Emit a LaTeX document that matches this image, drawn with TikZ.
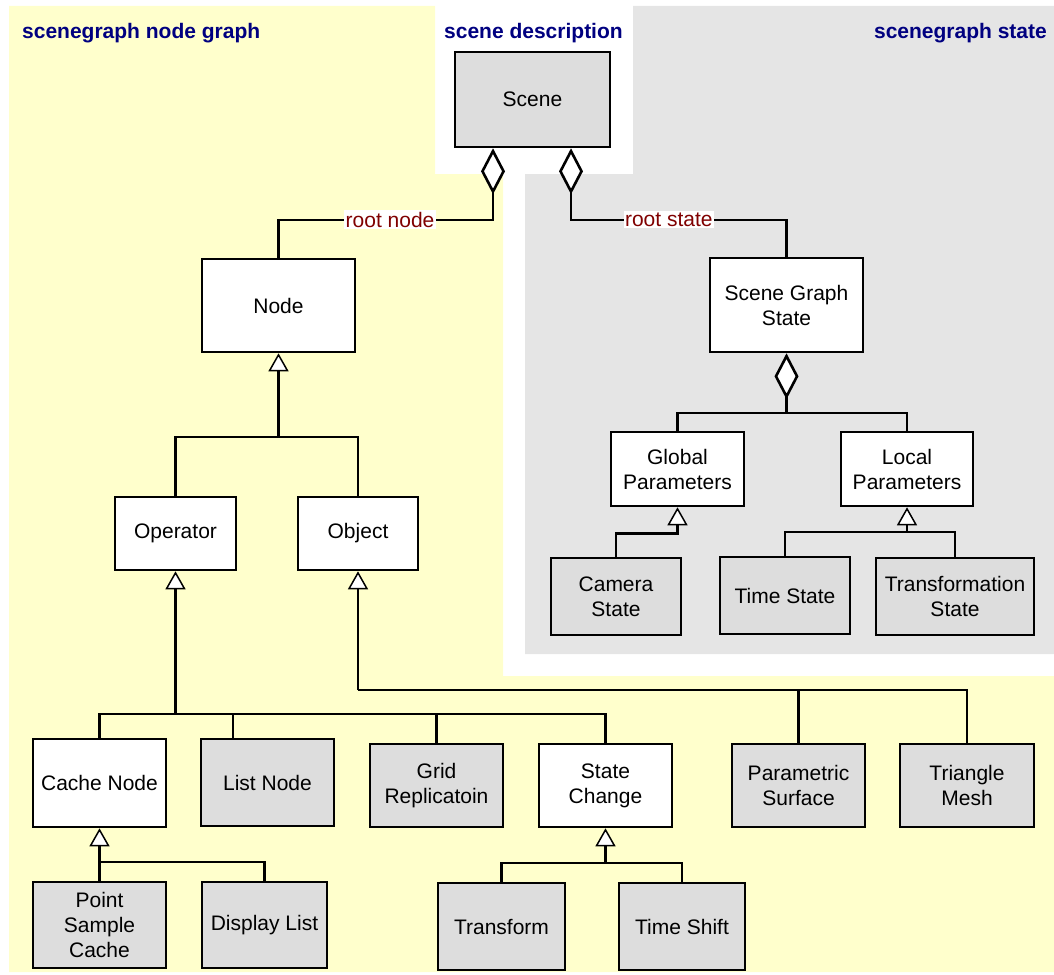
\documentclass[tikz,border=0pt]{standalone}
\usepackage{fontspec}
\setmainfont{Liberation Sans}
\usetikzlibrary{arrows.meta}
\definecolor{paleyellow}{HTML}{FFFFCC}
\definecolor{panelgrey}{HTML}{E5E5E5}
\definecolor{boxgrey}{HTML}{DDDDDD}
\definecolor{titleblue}{HTML}{000080}
\definecolor{labelred}{HTML}{800000}
\begin{document}
\begin{tikzpicture}[x=1pt,y=-1pt,
  font=\fontsize{21}{25}\selectfont,
  cls/.style={draw=black, line width=2.6pt, fill=white, align=center, inner sep=0pt},
  leaf/.style={cls, fill=boxgrey},
  link/.style={draw=black, line width=2.4pt},
  inh/.style={link, -{Triangle[length=18pt,width=20pt,fill=white,line width=1.5pt]}},
  aggr/.style={link, -{Diamond[length=46pt,width=24pt,fill=white,line width=2.6pt]}},
  role/.style={fill=white, text=labelred, inner sep=1.5pt},
  paneltitle/.style={font=\fontsize{21}{25}\selectfont\bfseries, text=titleblue, inner sep=0pt}
]
\useasboundingbox (0,0) rectangle (1054,974);

% background panels
\fill[paleyellow] (9,6) -- (435,6) -- (435,174) -- (503,174) -- (503,676)
  -- (1054,676) -- (1054,972) -- (9,972) -- cycle;
\fill[panelgrey] (633,6) -- (1054,6) -- (1054,654) -- (525,654) -- (525,174)
  -- (633,174) -- cycle;

% panel titles
\node[paneltitle, anchor=base west] (t1) at (22,39) {scenegraph node graph};
\node[paneltitle, anchor=base west] (t2) at (444,39) {scene description};
\node[paneltitle, anchor=base east] (t3) at (1047,39) {scenegraph state};

% classes
\node[leaf, minimum width=155pt, minimum height=95pt] (scene) at (532.5,99.5) {Scene};
\node[cls, minimum width=153pt, minimum height=93pt] (node) at (278.5,305.5) {Node};
\node[cls, minimum width=153pt, minimum height=94pt] (sgs) at (786.5,305) {Scene Graph\\State};
\node[cls, minimum width=121pt, minimum height=73pt] (operator) at (175.5,533.5) {Operator};
\node[cls, minimum width=120pt, minimum height=73pt] (object) at (358,533.5) {Object};
\node[cls, minimum width=133pt, minimum height=74pt] (global) at (677.5,469) {Global\\Parameters};
\node[cls, minimum width=132pt, minimum height=74pt] (local) at (907,469) {Local\\Parameters};
\node[leaf, minimum width=130pt, minimum height=77pt] (camera) at (616,596.5) {Camera\\State};
\node[leaf, minimum width=130pt, minimum height=77pt] (timestate) at (785,595.5) {Time State};
\node[leaf, minimum width=158pt, minimum height=77pt] (trstate) at (955,596.5) {Transformation\\State};
\node[cls, minimum width=133pt, minimum height=88pt] (cache) at (99.5,783) {Cache Node};
\node[leaf, minimum width=133pt, minimum height=87pt] (list) at (267.5,782.5) {List Node};
\node[leaf, minimum width=133pt, minimum height=83pt] (grid) at (436.5,785.5) {Grid\\Replicatoin};
\node[cls, minimum width=133pt, minimum height=83pt] (statechange) at (605.5,785.5) {State\\Change};
\node[leaf, minimum width=133pt, minimum height=83pt] (parametric) at (798.5,785.5) {Parametric\\Surface};
\node[leaf, minimum width=134pt, minimum height=83pt] (trimesh) at (967,785.5) {Triangle\\Mesh};
\node[leaf, minimum width=133pt, minimum height=86pt] (psc) at (99.5,925) {Point\\Sample\\Cache};
\node[leaf, minimum width=125pt, minimum height=86pt] (displaylist) at (264.5,925) {Display List};
\node[leaf, minimum width=127pt, minimum height=87pt] (transform) at (501.5,926.5) {Transform};
\node[leaf, minimum width=126pt, minimum height=87pt] (timeshift) at (682,926.5) {Time Shift};

% bus junctions
\coordinate (nodebus) at (278.5,437);
\coordinate (opbus) at (175.5,714);
\coordinate (objbus) at (358,690);
\coordinate (cachebus) at (99.5,862);
\coordinate (scbus) at (605.5,863);
\coordinate (sgsbus) at (786.5,413);
\coordinate (localbus) at (907,532);

% aggregations from the scene
\draw[aggr] (node.north) -- ++(0,-38) -| node[role, pos=0.26] {root node} ([xshift=-39.5pt]scene.south);
\draw[aggr] (sgs.north) -- ++(0,-37) -| node[role, pos=0.273] {root state} ([xshift=38.5pt]scene.south);

% node hierarchy
\draw[inh] (nodebus) -- (node.south);
\draw[link] (operator.north) |- (nodebus) -| (object.north);

\draw[inh] (opbus) -- (operator.south);
\draw[link] (cache.north) |- (opbus);
\draw[link] ([xshift=-34.5pt]list.north) |- (opbus);
\draw[link] (grid.north) |- (opbus);
\draw[link] (statechange.north) |- (opbus);

\draw[inh] (objbus) -- (object.south);
\draw[link] (parametric.north) |- (objbus);
\draw[link] (trimesh.north) |- (objbus);

\draw[inh] (psc.north) -- (cache.south);
\draw[link] (displaylist.north) |- (cachebus);

\draw[inh] (scbus) -- (statechange.south);
\draw[link] (transform.north) |- (scbus);
\draw[link] (timeshift.north) |- (scbus);

% state hierarchy
\draw[aggr] (sgsbus) -- (sgs.south);
\draw[link] (global.north) |- (sgsbus) -| (local.north);

\draw[inh] (camera.north) |- ([yshift=-26pt]global.south) -- (global.south);

\draw[inh] (localbus) -- (local.south);
\draw[link] (timestate.north) |- (localbus);
\draw[link] (trstate.north) |- (localbus);
\end{tikzpicture}
\end{document}
